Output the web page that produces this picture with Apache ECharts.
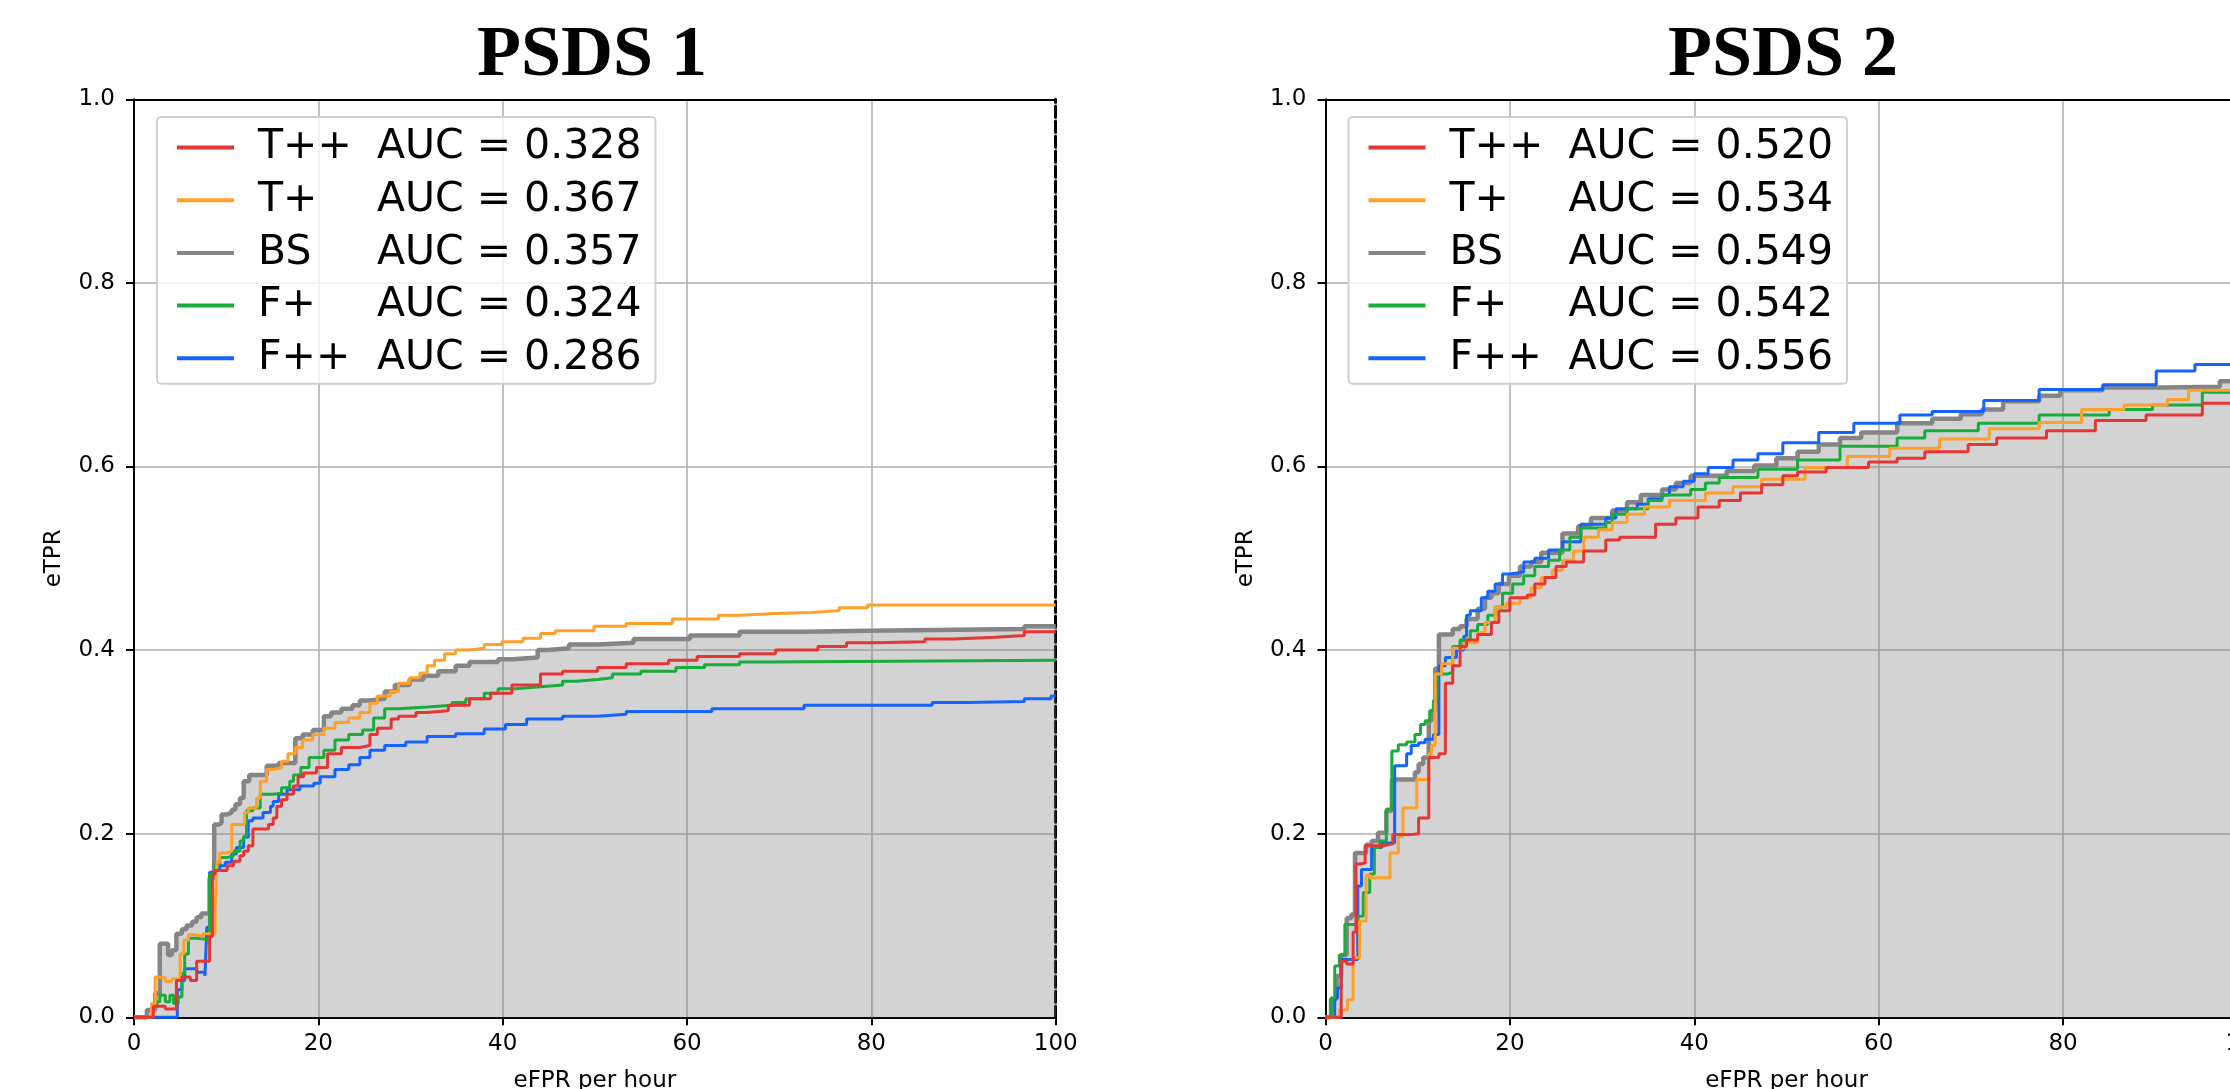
<!DOCTYPE html>
<html><head><meta charset="utf-8">
<script src="https://cdn.jsdelivr.net/npm/echarts@6/dist/echarts.min.js"></script>
<style>html,body{margin:0;padding:0;background:#fff}#c{width:2230px;height:1089px}</style>
</head><body><div id="c"></div>
<script>
// ---- data ----
const titles = ['PSDS 1', 'PSDS 2'];
const methods = ['T++', 'T+', 'BS', 'F+', 'F++'];
const auc1 = ['0.328', '0.367', '0.357', '0.324', '0.286'];
const auc2 = ['0.520', '0.534', '0.549', '0.542', '0.556'];
const xTicks = [0, 20, 40, 60, 80, 100];
const yTicks = [0.0, 0.2, 0.4, 0.6, 0.8, 1.0];

// PSDS 1 curves: [eFPR per hour, eTPR]
const p1_Tpp = [[0,0],[2.1,0.012],[3.4,0.009],[4.6,0.04],[5.2,0.044],[6.1,0.04],[6.8,0.061],[8.2,0.088],[8.5,0.156],[8.8,0.16],[10.1,0.165],[10.8,0.17],[11.5,0.176],[11.9,0.181],[12.4,0.187],[12.9,0.205],[14.6,0.21],[15.1,0.217],[15.5,0.23],[16,0.237],[16.6,0.243],[17.3,0.252],[17.8,0.262],[18.4,0.266],[19.8,0.272],[21,0.287],[22.5,0.294],[24.5,0.296],[25.6,0.308],[26.4,0.315],[27.9,0.325],[28.7,0.328],[30.6,0.332],[31.8,0.334],[34.1,0.34],[36.4,0.347],[38.7,0.353],[41,0.362],[44.1,0.374],[46.5,0.377],[50.3,0.381],[53.4,0.385],[58,0.389],[61.1,0.393],[65.7,0.396],[69.6,0.4],[74.2,0.404],[77.3,0.408],[80.4,0.409],[85.8,0.412],[88.9,0.414],[93.5,0.416],[96.6,0.42],[100,0.42]];
const p1_Tp = [[0,0],[1.9,0.015],[2.3,0.044],[2.7,0.043],[3.4,0.039],[4.1,0.042],[5,0.069],[5.4,0.084],[5.9,0.09],[6.6,0.088],[7.5,0.091],[8.8,0.12],[9,0.169],[9.3,0.179],[10.1,0.181],[10.6,0.21],[12,0.223],[12.4,0.228],[13.3,0.239],[13.7,0.257],[14.4,0.27],[15.2,0.272],[16,0.279],[16.7,0.287],[17.5,0.294],[18.3,0.302],[19.4,0.308],[20.6,0.315],[21.8,0.321],[23.3,0.326],[24.5,0.332],[25.6,0.342],[26.4,0.35],[27.8,0.355],[28.7,0.364],[29.9,0.37],[31,0.375],[31.8,0.383],[32.6,0.389],[33.7,0.396],[34.9,0.4],[36.4,0.402],[38,0.406],[39.9,0.409],[42.2,0.413],[44.1,0.418],[45.7,0.421],[49.9,0.426],[53.4,0.429],[58.4,0.434],[63.4,0.438],[65.7,0.44],[69.6,0.441],[73.5,0.443],[76.5,0.446],[79.6,0.449],[100,0.449]];
const p1_BS = [[0,0],[1.4,0.008],[2.3,0.026],[2.8,0.08],[3.7,0.068],[4.1,0.073],[4.6,0.091],[5.2,0.096],[5.7,0.1],[6.3,0.104],[6.8,0.109],[7.3,0.113],[7.9,0.114],[8.2,0.152],[8.7,0.21],[9.2,0.212],[9.5,0.221],[10.1,0.223],[10.6,0.226],[11,0.232],[11.5,0.239],[11.9,0.257],[12.5,0.264],[14.4,0.274],[15.7,0.277],[17.5,0.304],[18.3,0.308],[19.4,0.313],[20.6,0.328],[21.4,0.332],[22.5,0.336],[23.7,0.34],[24.5,0.345],[25.6,0.347],[27.2,0.355],[28.3,0.362],[29.9,0.368],[31.4,0.372],[33,0.377],[34.9,0.383],[36.4,0.387],[39.5,0.39],[41.1,0.392],[43.8,0.4],[44.9,0.402],[47.2,0.406],[50.3,0.408],[54.2,0.412],[60.3,0.416],[65.7,0.42],[72.7,0.421],[79.6,0.423],[96.6,0.426],[100,0.426]];
const p1_Fp = [[0,0],[1.9,0.012],[2.5,0.017],[2.8,0.024],[3.4,0.017],[3.9,0.024],[4.3,0.015],[4.8,0.022],[5.2,0.048],[5.5,0.069],[5.9,0.086],[6.8,0.085],[7.9,0.087],[8.2,0.156],[8.8,0.167],[9.3,0.174],[10.1,0.176],[10.8,0.181],[11.5,0.192],[11.9,0.197],[12.2,0.225],[12.9,0.228],[13.7,0.243],[15.1,0.244],[16,0.25],[16.9,0.257],[17.3,0.264],[18.1,0.272],[19,0.283],[20.6,0.291],[21.8,0.302],[23.3,0.308],[24.8,0.313],[26,0.326],[27.2,0.336],[28.7,0.338],[31.8,0.34],[34.5,0.343],[36,0.347],[38,0.353],[39.5,0.358],[41.4,0.36],[44.1,0.362],[46.5,0.366],[48,0.368],[50.3,0.37],[51.9,0.374],[55,0.377],[58.8,0.381],[61.9,0.384],[65.7,0.387],[68.8,0.389],[100,0.389]];
const p1_Fpp = [[0,0],[4.7,0.03],[5.2,0.04],[5.5,0.053],[6.8,0.049],[7.7,0.045],[7.9,0.098],[8.2,0.158],[8.8,0.161],[9.3,0.165],[9.9,0.169],[10.6,0.178],[11.1,0.185],[11.9,0.196],[12.4,0.214],[12.9,0.217],[14,0.223],[14.8,0.23],[15.1,0.235],[15.7,0.243],[16.6,0.248],[18,0.252],[19.5,0.255],[20.2,0.262],[21.8,0.27],[23.3,0.275],[24.5,0.283],[25.6,0.291],[27.2,0.296],[29.5,0.3],[31.8,0.306],[34.9,0.309],[38,0.314],[40.3,0.319],[42.6,0.325],[46.5,0.328],[50.3,0.33],[53.4,0.333],[62.7,0.336],[72.7,0.34],[86.6,0.343],[90.4,0.344],[96.6,0.347],[99.5,0.35],[100,0.35]];

// PSDS 2 curves
const p2_Tpp = [[0,0],[1.7,0.061],[2.3,0.058],[3,0.093],[3.3,0.167],[3.7,0.168],[4.3,0.187],[6.4,0.189],[7.3,0.199],[9.2,0.2],[10.1,0.217],[11.2,0.283],[12.3,0.287],[13,0.364],[13.8,0.383],[14.6,0.404],[15.3,0.411],[16.5,0.417],[18,0.43],[18.8,0.443],[20,0.457],[21.9,0.46],[22.7,0.472],[23.8,0.479],[25,0.491],[26.1,0.496],[28,0.508],[30.4,0.52],[31.9,0.523],[35.8,0.537],[38,0.544],[40.4,0.556],[42.7,0.563],[45,0.571],[47.3,0.58],[49.6,0.59],[51.2,0.594],[54.3,0.599],[58.9,0.605],[62,0.609],[65,0.616],[69.7,0.624],[72.8,0.631],[78.2,0.639],[83.5,0.65],[89,0.656],[95.1,0.669],[100,0.669]];
const p2_Tp = [[0,0],[1.5,0.008],[2.4,0.019],[3,0.065],[3.7,0.105],[4.4,0.155],[4.8,0.152],[7,0.179],[7.9,0.197],[8.4,0.228],[9.9,0.259],[11.2,0.287],[11.5,0.296],[11.9,0.374],[12.6,0.385],[13.8,0.402],[15,0.408],[16.5,0.419],[17.3,0.43],[18.4,0.447],[19.6,0.451],[21.1,0.457],[22.3,0.468],[23.4,0.479],[24.6,0.487],[25.7,0.498],[26.9,0.508],[28,0.523],[29.6,0.531],[31.1,0.539],[32.7,0.548],[34.6,0.556],[37.3,0.563],[41.2,0.571],[44.2,0.578],[47.3,0.586],[52,0.599],[56.6,0.611],[61.2,0.62],[66.6,0.63],[72,0.641],[77.4,0.648],[82,0.662],[86.6,0.667],[91.3,0.673],[93.6,0.683],[100,0.683]];
const p2_BS = [[0,0],[0.6,0.02],[1.2,0.045],[1.7,0.068],[2.3,0.108],[2.8,0.112],[3.2,0.179],[4.4,0.188],[5,0.192],[5.7,0.201],[6.6,0.225],[7.2,0.259],[9.7,0.267],[10.1,0.276],[10.6,0.283],[11.2,0.323],[11.5,0.334],[11.9,0.38],[12.3,0.417],[13.8,0.423],[14.6,0.426],[15.3,0.434],[16.5,0.445],[17.3,0.457],[18,0.462],[18.8,0.472],[19.9,0.481],[21.1,0.491],[22.3,0.496],[23.4,0.506],[25.7,0.527],[27.4,0.535],[28.8,0.544],[31.1,0.552],[32.7,0.561],[34.2,0.569],[36.5,0.575],[38,0.582],[39.6,0.59],[43.5,0.595],[46.5,0.601],[48.9,0.609],[51.2,0.616],[53.5,0.624],[55.8,0.631],[58.1,0.637],[62,0.647],[65.8,0.652],[68.9,0.657],[71.2,0.662],[73.5,0.671],[77.4,0.677],[79.7,0.683],[84.3,0.686],[90.9,0.687],[97,0.693],[100,0.693]];
const p2_Fp = [[0,0],[0.6,0.021],[1,0.056],[1.5,0.068],[2.1,0.101],[3.5,0.11],[4.1,0.136],[4.8,0.156],[5.3,0.185],[5.9,0.192],[6.6,0.227],[7.2,0.29],[7.9,0.297],[8.8,0.3],[9.7,0.308],[10.3,0.319],[10.8,0.323],[11.3,0.334],[11.7,0.345],[12.1,0.374],[13.3,0.376],[13.8,0.404],[14.6,0.411],[15.7,0.421],[16.5,0.428],[17.6,0.438],[18.4,0.447],[19.2,0.462],[20.3,0.472],[21.5,0.481],[22.7,0.491],[24.2,0.498],[25.4,0.509],[26.5,0.523],[27.7,0.533],[30.4,0.539],[31.1,0.548],[32.7,0.554],[35,0.563],[36.5,0.569],[39.6,0.575],[41.2,0.582],[42.7,0.588],[46.9,0.597],[51.2,0.607],[55.8,0.622],[62,0.631],[65,0.639],[70.8,0.647],[77.4,0.656],[85,0.662],[89.7,0.667],[95.1,0.681],[100,0.681]];
const p2_Fpp = [[0,0],[1,0.021],[1.3,0.032],[1.7,0.063],[3.5,0.143],[3.9,0.161],[5,0.185],[6.1,0.19],[7.5,0.274],[8.8,0.287],[9.3,0.296],[10.1,0.299],[10.8,0.303],[11.7,0.308],[12.3,0.383],[13,0.392],[14.2,0.4],[15,0.415],[15.3,0.438],[15.7,0.443],[16.9,0.457],[17.6,0.464],[18.4,0.472],[19.2,0.483],[20,0.485],[21.5,0.496],[22.7,0.5],[24.2,0.509],[25.7,0.518],[27.7,0.537],[30.4,0.544],[31.5,0.554],[33.8,0.559],[35,0.565],[36.5,0.569],[37.3,0.578],[38.8,0.584],[40,0.592],[41.5,0.599],[44.2,0.607],[46.9,0.614],[49.6,0.626],[53.5,0.637],[57.3,0.647],[62.3,0.656],[65.8,0.66],[71.4,0.672],[77.4,0.684],[84.3,0.689],[90.1,0.704],[94.3,0.711],[100,0.711]];

const curves1 = {'T++': p1_Tpp, 'T+': p1_Tp, 'BS': p1_BS, 'F+': p1_Fp, 'F++': p1_Fpp};
const curves2 = {'T++': p2_Tpp, 'T+': p2_Tp, 'BS': p2_BS, 'F+': p2_Fp, 'F++': p2_Fpp};

// ---- styles ----
const colorOf = {'T++': '#e53535', 'T+': '#ffa02a', 'BS': '#858585', 'F+': '#18ad3b', 'F++': '#1463ff'};
const drawOrder = ['BS', 'F++', 'F+', 'T+', 'T++'];
const FONT = 'DejaVu Sans';
const gridsPos = [
  {left: 134, top: 99.3, width: 921.7, height: 918},
  {left: 1325.5, top: 99.3, width: 922, height: 918}
];
const titleX = [587, 1778];

const chart = echarts.init(document.getElementById('c'), null, {renderer: 'canvas'});
const xAxis = [], yAxis = [], series = [], legend = [], title = [];
[curves1, curves2].forEach((curves, i) => {
  const aucs = i === 0 ? auc1 : auc2;
  xAxis.push({
    gridIndex: i, type: 'value', min: xTicks[0], max: xTicks[xTicks.length - 1], interval: xTicks[1] - xTicks[0],
    position: 'bottom',
    axisLine: {show: true, onZero: false, lineStyle: {color: '#000', width: 2}},
    axisTick: {show: true, inside: false, length: 8, lineStyle: {color: '#000', width: 2}},
    axisLabel: {fontSize: 23, fontFamily: FONT, color: '#000', margin: 15},
    splitLine: {show: true, lineStyle: {color: '#b0b0b0', width: 1.6}},
    name: 'eFPR per hour', nameLocation: 'middle', nameGap: 52,
    nameTextStyle: {fontSize: 23, fontFamily: FONT, color: '#000'}
  });
  xAxis.push({
    gridIndex: i, type: 'value', min: 0, max: 100, position: 'top',
    axisLine: {show: true, onZero: false, lineStyle: {color: '#000', width: 2}},
    axisTick: {show: false}, axisLabel: {show: false}, splitLine: {show: false}
  });
  yAxis.push({
    gridIndex: i, type: 'value', min: yTicks[0], max: yTicks[yTicks.length - 1], interval: 0.2,
    position: 'left',
    axisLine: {show: true, onZero: false, lineStyle: {color: '#000', width: 2}},
    axisTick: {show: true, inside: false, length: 8, lineStyle: {color: '#000', width: 2}},
    axisLabel: {fontSize: 23, fontFamily: FONT, color: '#000', margin: 19, formatter: v => v.toFixed(1)},
    splitLine: {show: true, lineStyle: {color: '#b0b0b0', width: 1.6}},
    name: 'eTPR', nameLocation: 'middle', nameGap: 68, nameRotate: 90,
    nameTextStyle: {fontSize: 23, fontFamily: FONT, color: '#000'}
  });
  yAxis.push({
    gridIndex: i, type: 'value', min: 0, max: 1, position: 'right',
    axisLine: {show: true, onZero: false, lineStyle: {color: '#000', width: i === 0 ? 3 : 2, type: i === 0 ? [11, 4] : 'solid'}},
    axisTick: {show: false}, axisLabel: {show: false}, splitLine: {show: false}
  });
  drawOrder.forEach((m, k) => {
    const s = {
      type: 'line', name: m, xAxisIndex: 2 * i, yAxisIndex: 2 * i,
      data: curves[m], step: 'end', symbol: 'none', showSymbol: false, clip: false,
      lineStyle: {color: colorOf[m], width: m === 'BS' ? 4.5 : 3},
      itemStyle: {color: colorOf[m]},
      z: 2 + k, animation: false, silent: true
    };
    if (m === 'BS') s.areaStyle = {color: 'rgba(128,128,128,0.35)', opacity: 1, origin: 'start'};
    series.push(s);
  });
  legend.push({
    show: true, orient: 'vertical', left: gridsPos[i].left + 23, top: 117,
    icon: 'rect', itemWidth: 57, itemHeight: 4, itemGap: 11.7,
    padding: [10, 14, 5, 20],
    borderColor: '#d0d0d0', borderWidth: 2, borderRadius: 4,
    backgroundColor: 'rgba(255,255,255,0.8)',
    data: methods, selectedMode: false,
    formatter: name => `{g| }{n|${name}}{a|AUC = ${aucs[methods.indexOf(name)]}}`,
    textStyle: {
      fontSize: 41, fontFamily: FONT, color: '#000',
      rich: {
        g: {width: 19, fontSize: 41, fontFamily: FONT},
        n: {width: 119, fontSize: 41, fontFamily: FONT, color: '#000'},
        a: {fontSize: 41, fontFamily: FONT, color: '#000'}
      }
    }
  });
  title.push({
    text: titles[i], left: titleX[i], top: 15, textAlign: 'center',
    textStyle: {fontFamily: 'Liberation Serif', fontWeight: 'bold', fontSize: 72, color: '#000'}
  });
});

chart.setOption({
  animation: false,
  backgroundColor: '#fff',
  title, legend,
  grid: gridsPos.map(g => Object.assign({containLabel: false, outerBoundsMode: 'none'}, g)),
  xAxis, yAxis, series
});
</script></body></html>
